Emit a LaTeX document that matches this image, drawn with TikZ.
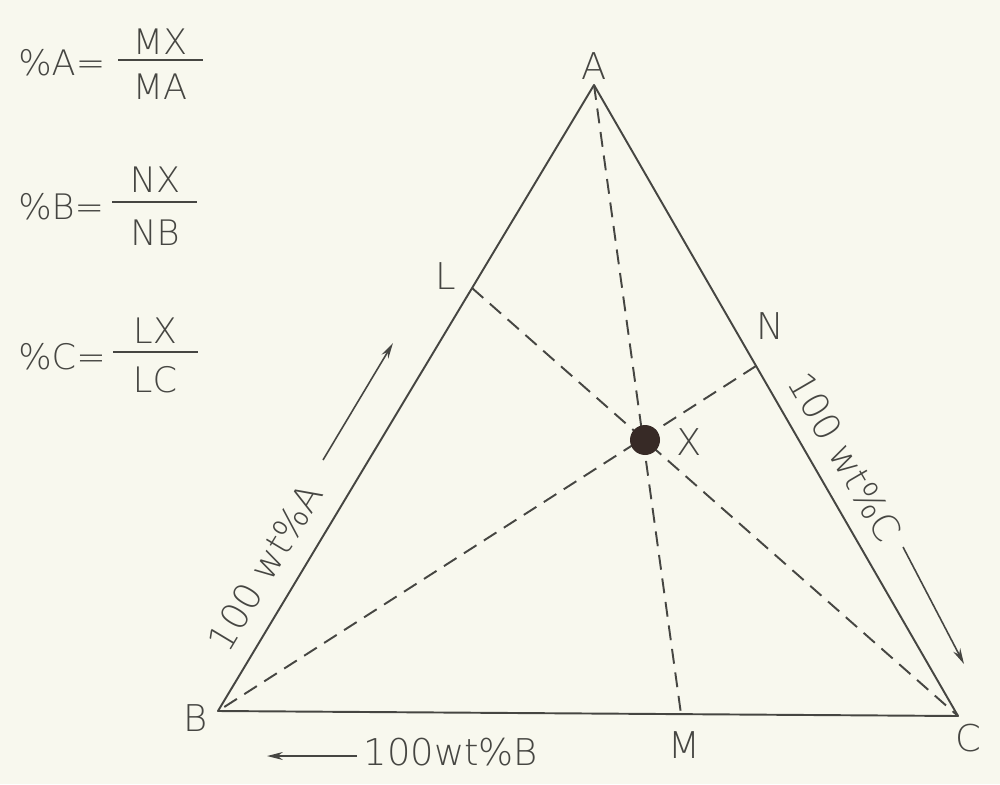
\documentclass[tikz,border=0pt]{standalone}
\usepackage{fontspec}
\setmainfont{DejaVu Sans ExtraLight}
\usetikzlibrary{arrows.meta}
\definecolor{bgc}{RGB}{248,248,238}
\definecolor{ink}{RGB}{70,70,66}
\definecolor{dotc}{RGB}{55,42,38}
\begin{document}
\begin{tikzpicture}[x={(0.02cm,0)},y={(0,-0.02cm)},
  ln/.style={draw=ink, line width=1.1pt, line join=round},
  dsh/.style={draw=ink, line width=1.1pt, dash pattern=on 8.5pt off 5pt},
  lbl/.style={text=ink, font=\fontsize{21}{25}\selectfont, inner sep=0pt},
  fml/.style={text=ink, font=\fontsize{20}{24}\selectfont, inner sep=0pt},
  bar/.style={draw=ink, line width=1.1pt},
  arr/.style={draw=ink, line width=0.9pt, -{Stealth[length=9pt,width=4.5pt]}}]
\fill[bgc] (0,0) rectangle (1000,784);
\useasboundingbox (0,0) rectangle (1000,784);
% vertices and feet
\coordinate (A) at (594,85);
\coordinate (B) at (218,711);
\coordinate (C) at (958,716);
\coordinate (L) at (472,288);
\coordinate (N) at (756,366);
\coordinate (M) at (681,714);
% triangle
\draw[ln] (A) -- (B) -- (C) -- cycle;
% dashed lines through X
\draw[dsh] (A) -- (M);
\draw[dsh] (L) -- (C);
\draw[dsh] (N) -- (B);
\node[circle, fill=dotc, inner sep=0pt, minimum size=0.6cm] (X) at (645,440) {};
% labels
\node[lbl] (lA) at (594,66) {A};
\node[lbl] (lB) at (196,718) {B};
\node[lbl] (lC) at (968,738) {C};
\node[lbl] (lL) at (446,276) {L};
\node[lbl] (lN) at (770,326) {N};
\node[lbl] (lM) at (684,745) {M};
\node[lbl] (lX) at (689,442) {X};
% side labels and arrows
\node[lbl, rotate=59] (tA) at (265,567) {100 wt\%A};
\coordinate (a1s) at (323,460);
\coordinate (a1e) at (393,343);
\draw[arr] (a1s) -- (a1e);
\node[lbl, rotate=-59.8] (tC) at (845,457) {100 wt\%C};
\coordinate (a2s) at (903,547);
\coordinate (a2e) at (964,664);
\draw[arr] (a2s) -- (a2e);
\node[lbl] (tB) at (451,752) {100wt\%B};
\coordinate (a3s) at (357,756);
\coordinate (a3e) at (267,756);
\draw[arr] (a3s) -- (a3e);
% formulas
\node[fml, anchor=west] (fA) at (18,63) {\%A=};
\draw[bar] (118,60) -- (203,60);
\node[fml] (fAn) at (160,42) {MX};
\node[fml] (fAd) at (160,87) {MA};
\node[fml, anchor=west] (fB) at (18,207) {\%B=};
\draw[bar] (112,202) -- (197,202);
\node[fml] (fBn) at (155,180) {NX};
\node[fml] (fBd) at (155,233) {NB};
\node[fml, anchor=west] (fC) at (18,357) {\%C=};
\draw[bar] (113,352) -- (198,352);
\node[fml] (fCn) at (155,331) {LX};
\node[fml] (fCd) at (155,380) {LC};
\end{tikzpicture}
\end{document}
